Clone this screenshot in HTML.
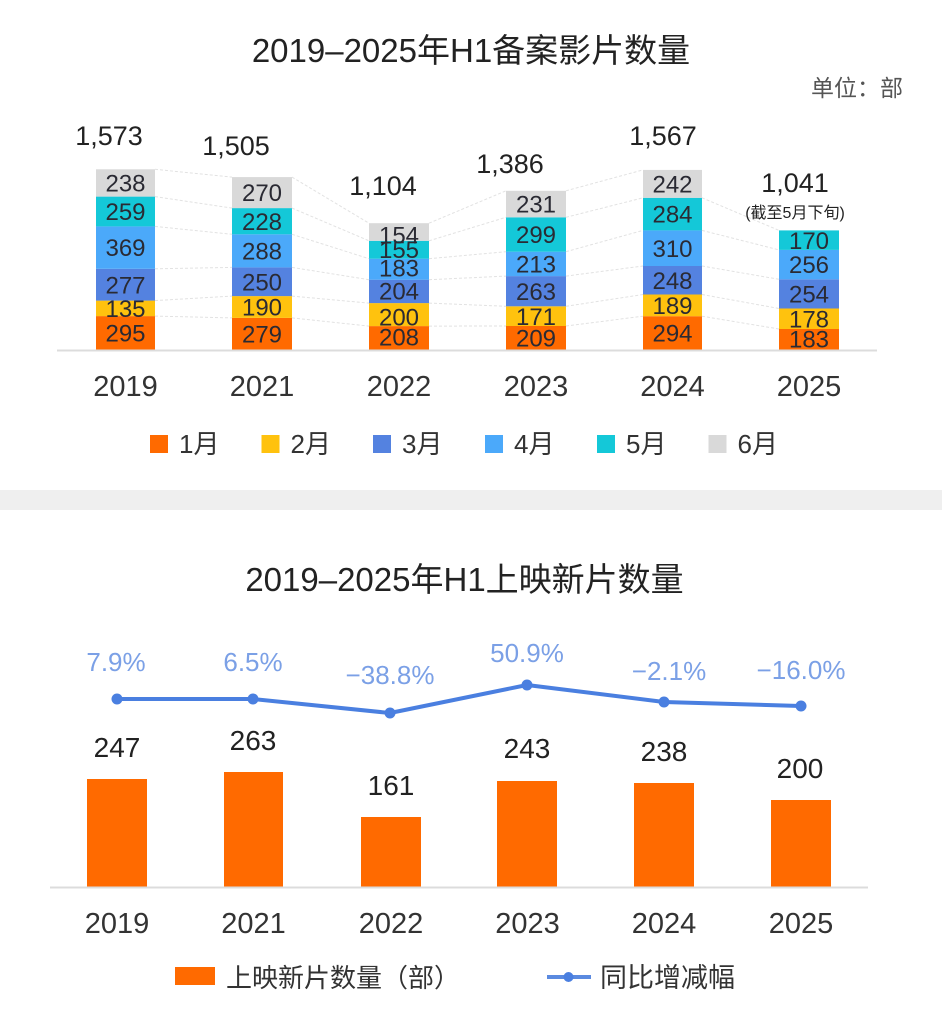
<!DOCTYPE html>
<html><head><meta charset="utf-8"><style>
html,body{margin:0;padding:0;background:#fff;}
svg{display:block;}
text{font-family:"Liberation Sans","Noto Sans CJK SC",sans-serif;}
</style></head><body>
<svg width="942" height="1016" viewBox="0 0 942 1016" xmlns="http://www.w3.org/2000/svg">
<rect x="0" y="0" width="942" height="1016" fill="#ffffff"/>
<!-- separator band -->
<rect x="0" y="490" width="942" height="20" fill="#efefef"/>

<!-- TOP TITLE -->
<text x="471" y="62" font-size="33" fill="#222" text-anchor="middle">2019–2025年H1备案影片数量</text>
<text x="903" y="96" font-size="23" fill="#555" text-anchor="end">单位：部</text>

<!-- connector dashed lines -->
<g stroke="#e2e2e2" stroke-width="1" stroke-dasharray="3,2" fill="none">
<line x1="155" y1="316.1" x2="232" y2="317.9"/>
<line x1="155" y1="300.6" x2="232" y2="296.1"/>
<line x1="155" y1="268.8" x2="232" y2="267.4"/>
<line x1="155" y1="226.4" x2="232" y2="234.3"/>
<line x1="155" y1="196.6" x2="232" y2="208.1"/>
<line x1="155" y1="169.3" x2="232" y2="177.1"/>
<line x1="292" y1="317.9" x2="369" y2="326.1"/>
<line x1="292" y1="296.1" x2="369" y2="303.1"/>
<line x1="292" y1="267.4" x2="369" y2="279.7"/>
<line x1="292" y1="234.3" x2="369" y2="258.7"/>
<line x1="292" y1="208.1" x2="369" y2="240.8"/>
<line x1="292" y1="177.1" x2="369" y2="223.2"/>
<line x1="429" y1="326.1" x2="506" y2="326.0"/>
<line x1="429" y1="303.1" x2="506" y2="306.3"/>
<line x1="429" y1="279.7" x2="506" y2="276.1"/>
<line x1="429" y1="258.7" x2="506" y2="251.7"/>
<line x1="429" y1="240.8" x2="506" y2="217.3"/>
<line x1="429" y1="223.2" x2="506" y2="190.8"/>
<line x1="566" y1="326.0" x2="643" y2="316.2"/>
<line x1="566" y1="306.3" x2="643" y2="294.5"/>
<line x1="566" y1="276.1" x2="643" y2="266.0"/>
<line x1="566" y1="251.7" x2="643" y2="230.4"/>
<line x1="566" y1="217.3" x2="643" y2="197.8"/>
<line x1="566" y1="190.8" x2="643" y2="169.9"/>
<line x1="702" y1="316.2" x2="779" y2="329.0"/>
<line x1="702" y1="294.5" x2="779" y2="308.5"/>
<line x1="702" y1="266.0" x2="779" y2="279.3"/>
<line x1="702" y1="230.4" x2="779" y2="249.9"/>
<line x1="702" y1="197.8" x2="779" y2="230.4"/>
</g>

<!-- stacked bars -->
<g>
<rect x="96" y="316.1" width="59" height="33.9" fill="#ff6a00"/>
<rect x="96" y="300.6" width="59" height="15.5" fill="#ffc20e"/>
<rect x="96" y="268.8" width="59" height="31.8" fill="#5482e0"/>
<rect x="96" y="226.4" width="59" height="42.4" fill="#4ba9fa"/>
<rect x="96" y="196.6" width="59" height="29.8" fill="#14c8d8"/>
<rect x="96" y="169.3" width="59" height="27.3" fill="#d9d9d9"/>

<rect x="232" y="317.9" width="60" height="32.1" fill="#ff6a00"/>
<rect x="232" y="296.1" width="60" height="21.8" fill="#ffc20e"/>
<rect x="232" y="267.4" width="60" height="28.7" fill="#5482e0"/>
<rect x="232" y="234.3" width="60" height="33.1" fill="#4ba9fa"/>
<rect x="232" y="208.1" width="60" height="26.2" fill="#14c8d8"/>
<rect x="232" y="177.1" width="60" height="31.0" fill="#d9d9d9"/>

<rect x="369" y="326.1" width="60" height="23.9" fill="#ff6a00"/>
<rect x="369" y="303.1" width="60" height="23.0" fill="#ffc20e"/>
<rect x="369" y="279.7" width="60" height="23.4" fill="#5482e0"/>
<rect x="369" y="258.7" width="60" height="21.0" fill="#4ba9fa"/>
<rect x="369" y="240.8" width="60" height="17.9" fill="#14c8d8"/>
<rect x="369" y="223.2" width="60" height="17.6" fill="#d9d9d9"/>

<rect x="506" y="326.0" width="60" height="24.0" fill="#ff6a00"/>
<rect x="506" y="306.3" width="60" height="19.7" fill="#ffc20e"/>
<rect x="506" y="276.1" width="60" height="30.2" fill="#5482e0"/>
<rect x="506" y="251.7" width="60" height="24.4" fill="#4ba9fa"/>
<rect x="506" y="217.3" width="60" height="34.4" fill="#14c8d8"/>
<rect x="506" y="190.8" width="60" height="26.5" fill="#d9d9d9"/>

<rect x="643" y="316.2" width="59" height="33.8" fill="#ff6a00"/>
<rect x="643" y="294.5" width="59" height="21.7" fill="#ffc20e"/>
<rect x="643" y="266.0" width="59" height="28.5" fill="#5482e0"/>
<rect x="643" y="230.4" width="59" height="35.6" fill="#4ba9fa"/>
<rect x="643" y="197.8" width="59" height="32.6" fill="#14c8d8"/>
<rect x="643" y="169.9" width="59" height="27.9" fill="#d9d9d9"/>

<rect x="779" y="329.0" width="60" height="21.0" fill="#ff6a00"/>
<rect x="779" y="308.5" width="60" height="20.5" fill="#ffc20e"/>
<rect x="779" y="279.3" width="60" height="29.2" fill="#5482e0"/>
<rect x="779" y="249.9" width="60" height="29.4" fill="#4ba9fa"/>
<rect x="779" y="230.4" width="60" height="19.5" fill="#14c8d8"/>
</g>

<!-- segment labels -->
<g font-size="24" fill="#2a2a33" text-anchor="middle">
<text x="125.5" y="341.6">295</text>
<text x="125.5" y="317.0">135</text>
<text x="125.5" y="293.3">277</text>
<text x="125.5" y="256.2">369</text>
<text x="125.5" y="220.1">259</text>
<text x="125.5" y="191.6">238</text>

<text x="262" y="342.6">279</text>
<text x="262" y="315.6">190</text>
<text x="262" y="290.4">250</text>
<text x="262" y="259.5">288</text>
<text x="262" y="229.8">228</text>
<text x="262" y="201.2">270</text>

<text x="399" y="345.3">208</text>
<text x="399" y="325.6">200</text>
<text x="399" y="299.6">204</text>
<text x="399" y="276.3">183</text>
<text x="399" y="257.9">155</text>
<text x="399" y="243.6">154</text>

<text x="536" y="346.6">209</text>
<text x="536" y="324.8">171</text>
<text x="536" y="299.8">263</text>
<text x="536" y="272.5">213</text>
<text x="536" y="243.1">299</text>
<text x="536" y="212.6">231</text>

<text x="672.5" y="341.7">294</text>
<text x="672.5" y="314.0">189</text>
<text x="672.5" y="288.9">248</text>
<text x="672.5" y="256.8">310</text>
<text x="672.5" y="222.7">284</text>
<text x="672.5" y="192.4">242</text>

<text x="809" y="347.6">183</text>
<text x="809" y="327.3">178</text>
<text x="809" y="302.5">254</text>
<text x="809" y="273.2">256</text>
<text x="809" y="248.8">170</text>
</g>

<!-- totals -->
<g font-size="27" fill="#222" text-anchor="middle">
<text x="109" y="145">1,573</text>
<text x="236" y="155">1,505</text>
<text x="383" y="195">1,104</text>
<text x="510" y="173">1,386</text>
<text x="663" y="145">1,567</text>
<text x="795" y="192">1,041</text>
</g>
<text x="795" y="218" font-size="16" fill="#222" text-anchor="middle">(截至5月下旬)</text>

<!-- top axis -->
<line x1="57" y1="350.5" x2="877" y2="350.5" stroke="#dcdcdc" stroke-width="2"/>
<g font-size="29" fill="#333" text-anchor="middle">
<text x="125.5" y="396">2019</text>
<text x="262" y="396">2021</text>
<text x="399" y="396">2022</text>
<text x="536" y="396">2023</text>
<text x="672.5" y="396">2024</text>
<text x="809" y="396">2025</text>
</g>

<!-- top legend -->
<g font-size="26" fill="#333">
<rect x="150" y="435" width="18" height="18" fill="#ff6a00"/><text x="179" y="453">1月</text>
<rect x="261.5" y="435" width="18" height="18" fill="#ffc20e"/><text x="290.5" y="453">2月</text>
<rect x="373" y="435" width="18" height="18" fill="#5482e0"/><text x="402" y="453">3月</text>
<rect x="485" y="435" width="18" height="18" fill="#4ba9fa"/><text x="514" y="453">4月</text>
<rect x="597" y="435" width="18" height="18" fill="#14c8d8"/><text x="626" y="453">5月</text>
<rect x="708.5" y="435" width="18" height="18" fill="#d9d9d9"/><text x="737.5" y="453">6月</text>
</g>

<!-- BOTTOM TITLE -->
<text x="464.5" y="591" font-size="33" fill="#222" text-anchor="middle">2019–2025年H1上映新片数量</text>

<!-- bottom bars -->
<g fill="#ff6a00">
<rect x="87" y="779" width="60" height="108"/>
<rect x="224" y="772" width="59" height="115"/>
<rect x="361" y="817" width="60" height="70"/>
<rect x="497" y="781" width="60" height="106"/>
<rect x="634" y="783" width="60" height="104"/>
<rect x="771" y="800" width="60" height="87"/>
</g>
<line x1="50" y1="887.5" x2="868" y2="887.5" stroke="#dcdcdc" stroke-width="2"/>

<!-- value labels -->
<g font-size="28" fill="#222" text-anchor="middle">
<text x="117" y="757">247</text>
<text x="253" y="750">263</text>
<text x="391" y="795">161</text>
<text x="527" y="758">243</text>
<text x="664" y="761">238</text>
<text x="800" y="778">200</text>
</g>

<!-- line series -->
<polyline points="117,699 253,699 390,713 527,685 664,702 801,706" fill="none" stroke="#4a7fe0" stroke-width="4" stroke-linejoin="round"/>
<g fill="#4a7fe0">
<circle cx="117" cy="699" r="5.5"/>
<circle cx="253" cy="699" r="5.5"/>
<circle cx="390" cy="713" r="5.5"/>
<circle cx="527" cy="685" r="5.5"/>
<circle cx="664" cy="702" r="5.5"/>
<circle cx="801" cy="706" r="5.5"/>
</g>
<g font-size="26" fill="#7ba0e6" text-anchor="middle">
<text x="116" y="671">7.9%</text>
<text x="253" y="671">6.5%</text>
<text x="390" y="684">−38.8%</text>
<text x="527" y="662">50.9%</text>
<text x="669" y="680">−2.1%</text>
<text x="801" y="679">−16.0%</text>
</g>

<!-- bottom years -->
<g font-size="29" fill="#333" text-anchor="middle">
<text x="117" y="933">2019</text>
<text x="253.5" y="933">2021</text>
<text x="391" y="933">2022</text>
<text x="527.5" y="933">2023</text>
<text x="664" y="933">2024</text>
<text x="801" y="933">2025</text>
</g>

<!-- bottom legend -->
<rect x="175" y="967" width="40" height="18" fill="#ff6a00"/>
<text x="226" y="987" font-size="26" fill="#333">上映新片数量（部）</text>
<line x1="547" y1="977" x2="591" y2="977" stroke="#5b8ae0" stroke-width="4"/>
<circle cx="568.5" cy="977" r="5" fill="#4a7fe0"/>
<text x="600" y="987" font-size="27" fill="#333">同比增减幅</text>
</svg>
</body></html>
